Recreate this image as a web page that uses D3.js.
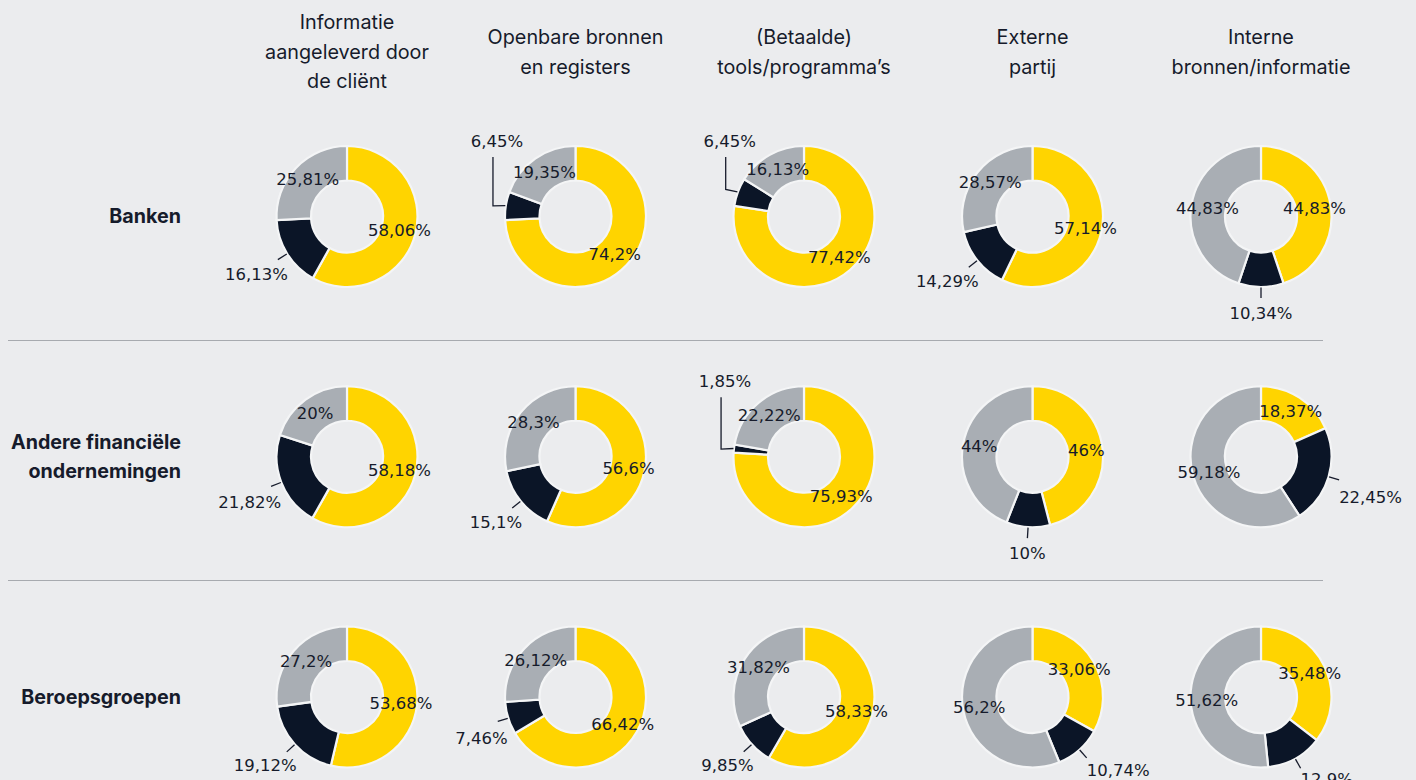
<!DOCTYPE html>
<html>
<head>
<meta charset="utf-8">
<script src="https://cdn.jsdelivr.net/npm/d3@7"></script>
<style>
  html, body { margin: 0; padding: 0; background: #ebecee; }
  #chart { width: 1416px; height: 780px; }
</style>
</head>
<body>
<div id="chart"></div>
<script>
// Bronnen per sector: three donuts per row (geel / donker / grijs)
const columns = [
  ["Informatie", "aangeleverd door", "de cliënt"],
  ["Openbare bronnen", "en registers"],
  ["(Betaalde)", "tools/programma’s"],
  ["Externe", "partij"],
  ["Interne", "bronnen/informatie"]
];
const rows = [
  ["Banken"],
  ["Andere financiële", "ondernemingen"],
  ["Beroepsgroepen"]
];
const segments = ["geel", "donker", "grijs"];

// percentages per column, order: geel, donker, grijs
const banken   = [[58.06, 16.13, 25.81], [74.2, 6.45, 19.35], [77.42, 6.45, 16.13], [57.14, 14.29, 28.57], [44.83, 10.34, 44.83]];
const andere   = [[58.18, 21.82, 20], [56.6, 15.1, 28.3], [75.93, 1.85, 22.22], [46, 10, 44], [18.37, 22.45, 59.18]];
const beroeps  = [[53.68, 19.12, 27.2], [66.42, 7.46, 26.12], [58.33, 9.85, 31.82], [33.06, 10.74, 56.2], [35.48, 12.9, 51.62]];
const values = [banken, andere, beroeps];

const W = 1416, H = 780;
const colors = d3.scaleOrdinal().domain(segments).range(["#ffd400", "#0b1527", "#a9aeb4"]);
const ink = "#161b2b";
const R = 70.5, r = 36;

const svg = d3.select("#chart").append("svg").attr("width", W).attr("height", H);

const x = d3.scalePoint().domain(d3.range(columns.length)).range([347, 1261]);
const y = d3.scalePoint().domain(d3.range(rows.length)).range([216.5, 697]);

// column headers, vertically centred
columns.forEach((lines, i) => {
  const lh = 29.5, top = 52 - (lines.length - 1) * lh / 2;
  svg.append("text")
    .attr("text-anchor", "middle")
    .attr("font-family", "Inter, 'Noto Sans', sans-serif")
    .attr("font-size", 19.8)
    .attr("fill", ink)
    .selectAll("tspan").data(lines).join("tspan")
    .attr("x", x(i)).attr("y", (d, k) => top + k * lh).attr("dy", "0.35em")
    .text(d => d);
});

// row labels
rows.forEach((lines, j) => {
  const lh = 29, top = y(j) - (lines.length - 1) * lh / 2;
  svg.append("text")
    .attr("text-anchor", "end")
    .attr("font-family", "Inter, 'Noto Sans', sans-serif")
    .attr("font-weight", 700)
    .attr("font-size", 19.7)
    .attr("fill", ink)
    .selectAll("tspan").data(lines).join("tspan")
    .attr("x", 181).attr("y", (d, k) => top + k * lh).attr("dy", "0.35em")
    .text(d => d);
});

// separators between rows
d3.range(rows.length - 1).forEach(j => {
  const yy = Math.round((y(j) + y(j + 1)) / 2) + 3.5;
  svg.append("line")
    .attr("x1", 8).attr("x2", 1323).attr("y1", yy).attr("y2", yy)
    .attr("stroke", "#a7aaaf").attr("stroke-width", 1.2);
});

const pie = d3.pie().sort(null).value(d => d.v);
const arc = d3.arc().innerRadius(r).outerRadius(R);
const fmt = v => String(v).replace(".", ",") + "%";

values.forEach((rowVals, j) => {
  rowVals.forEach((vals, i) => {
    const cx = x(i), cy = y(j);
    const g = svg.append("g").attr("transform", `translate(${cx},${cy})`);
    const arcs = pie(vals.map((v, k) => ({key: segments[k], v})));

    g.selectAll("path").data(arcs).join("path")
      .attr("d", arc)
      .attr("fill", d => colors(d.data.key))
      .attr("stroke", "#f4f5f6").attr("stroke-width", 2.2);

    const lbl = g.append("g")
      .attr("font-family", "'DejaVu Sans', Verdana, sans-serif")
      .attr("font-size", 16.5)
      .attr("fill", ink);

    arcs.forEach(d => {
      const text = fmt(d.data.v);
      const a = (d.startAngle + d.endAngle) / 2;
      const dx = Math.sin(a), dy = -Math.cos(a);
      if (d.data.key !== "donker") {
        const rm = (r + R) / 2 + 1;
        lbl.append("text").attr("x", dx * rm).attr("y", dy * rm)
          .attr("dy", "0.35em").attr("text-anchor", "middle").text(text);
        return;
      }
      const p0 = [dx * (R + 0.5), dy * (R + 0.5)];
      if (a > 1.5 * Math.PI) {
        // small slice in the upper-left: elbow up above the donut
        const p1 = [dx * (R + 13), dy * (R + 13) + 2];
        const p2 = [p1[0], -R + 11];
        g.append("path")
          .attr("d", d3.line()([p0, p1, p2]))
          .attr("fill", "none").attr("stroke", ink).attr("stroke-width", 1.3);
        lbl.append("text").attr("x", p1[0] + 4).attr("y", -R - 5)
          .attr("dy", "0.35em").attr("text-anchor", "middle").text(text);
        return;
      }
      const p1 = [dx * (R + 11), dy * (R + 11)];
      g.append("line")
        .attr("x1", p0[0]).attr("y1", p0[1]).attr("x2", p1[0]).attr("y2", p1[1])
        .attr("stroke", ink).attr("stroke-width", 1.3);
      const t = lbl.append("text").attr("dy", "0.35em").text(text);
      if (Math.abs(dx) < 0.2) {
        t.attr("text-anchor", "middle").attr("x", p1[0]).attr("y", p1[1] + 15);
      } else {
        const oy = 10 + 10 * (1 - Math.abs(dy));
        t.attr("text-anchor", dx < 0 ? "end" : "start")
          .attr("x", p1[0] + (dx < 0 ? 10 : 0))
          .attr("y", p1[1] + oy);
      }
    });
  });
});
</script>
</body>
</html>
